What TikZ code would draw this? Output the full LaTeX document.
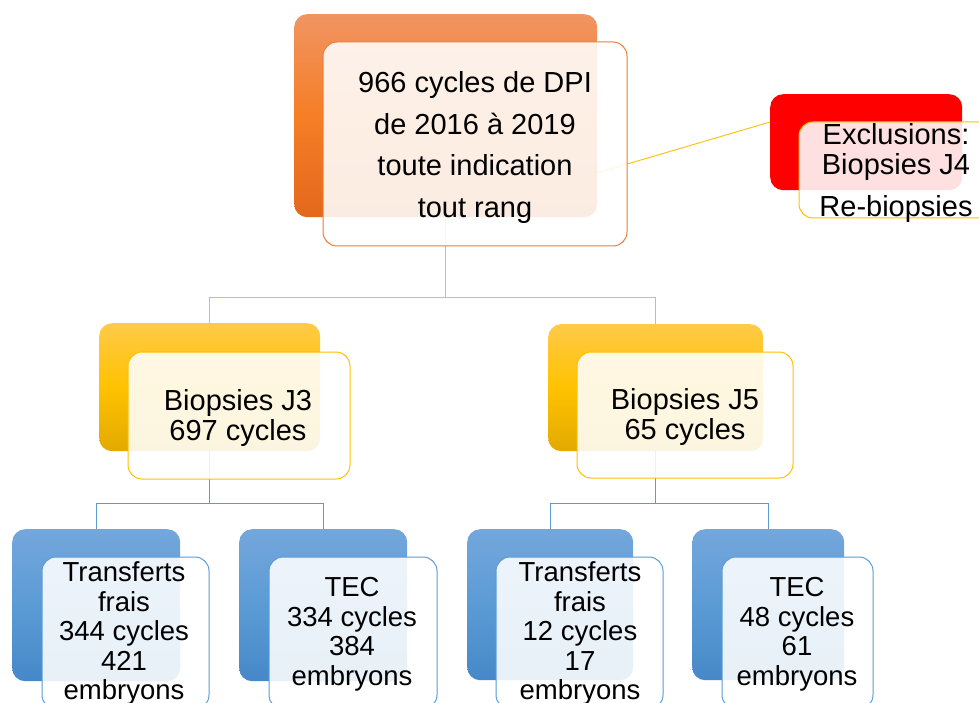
\documentclass[tikz,border=0pt]{standalone}
\usepackage{fontspec}
\setmainfont{Liberation Sans}
\usetikzlibrary{backgrounds}
\definecolor{orT}{RGB}{241,148,98}
\definecolor{orM}{RGB}{245,126,38}
\definecolor{orB}{RGB}{228,104,28}
\definecolor{orL}{RGB}{237,125,49}
\definecolor{yeT}{RGB}{255,202,72}
\definecolor{yeM}{RGB}{255,194,0}
\definecolor{yeB}{RGB}{226,170,0}
\definecolor{yeL}{RGB}{255,192,0}
\definecolor{blT}{RGB}{116,167,220}
\definecolor{blM}{RGB}{91,155,213}
\definecolor{blB}{RGB}{70,136,200}
\definecolor{blL}{RGB}{91,155,213}
\definecolor{exR}{RGB}{255,0,0}
\begin{document}
\begin{tikzpicture}[x=1pt,y=-1pt,
  backbox/.style={rectangle, rounded corners=13pt, inner sep=0pt, anchor=north west, draw=none},
  orback/.style={backbox, top color=orT, bottom color=orB, middle color=orM},
  yeback/.style={backbox, top color=yeT, bottom color=yeB, middle color=yeM},
  blback/.style={backbox, top color=blT, bottom color=blB, middle color=blM},
  redback/.style={backbox, fill=exR},
  frontbox/.style={rectangle, rounded corners=14pt, inner sep=0pt, fill=white, fill opacity=0.88, line width=1pt},
  txt/.style={inner sep=0pt, align=center, text=black},
  bigtxt/.style={txt, font=\fontsize{29}{41.5}\selectfont},
  midtxt/.style={txt, font=\fontsize{29}{30}\selectfont},
  smalltxt/.style={txt, font=\fontsize{27.5}{29.5}\selectfont},
  conY/.style={draw=yeL, line width=0.9pt},
  conB/.style={draw=blL, line width=0.9pt}]
\clip (0,0) rectangle (979,703);
% back boxes
\node[orback, minimum width=303pt, minimum height=203pt] (topb) at (294,14) {};
\node[redback, minimum width=192pt, minimum height=96pt] (exb) at (770,94) {};
\node[yeback, minimum width=221pt, minimum height=128pt] (j3b) at (99,323) {};
\node[yeback, minimum width=215pt, minimum height=127pt] (j5b) at (548,324) {};
\node[blback, minimum width=168pt, minimum height=152pt] (tf1b) at (12,529) {};
\node[blback, minimum width=168pt, minimum height=152pt] (tec1b) at (239,529) {};
\node[blback, minimum width=166pt, minimum height=151pt] (tf2b) at (467,529) {};
\node[blback, minimum width=152pt, minimum height=151pt] (tec2b) at (692,529) {};
% connectors
\coordinate (bus1) at (0,297);
\coordinate (bus2) at (0,503);
\coordinate (exin) at (770,122);
\begin{scope}[on background layer]
\draw[conY] (topb.south) -- (topb.south |- bus1) -| (j3b.north);
\draw[conY] (topb.south |- bus1) -| (j5b.north);
\draw[conY] (topb.south) -- (exin);
\draw[conB] (j3b.south) -- (j3b.south |- bus2) -| (tf1b.north);
\draw[conB] (j3b.south |- bus2) -| (tec1b.north);
\draw[conB] (j5b.south) -- (j5b.south |- bus2) -| (tf2b.north);
\draw[conB] (j5b.south |- bus2) -| (tec2b.north);
\end{scope}
% front boxes
\node[frontbox, draw=orL, minimum width=304pt, minimum height=204pt] (top) at (475,144) {};
\node[frontbox, draw=yeL, minimum width=192pt, minimum height=96pt] (ex) at (895,170) {};
\node[frontbox, draw=yeL, minimum width=222pt, minimum height=127pt] (j3) at (239,415.5) {};
\node[frontbox, draw=yeL, minimum width=216pt, minimum height=126pt] (j5) at (685,415) {};
\node[frontbox, draw=blL, minimum width=167pt, minimum height=152pt] (tf1) at (125.5,633) {};
\node[frontbox, draw=blL, minimum width=168pt, minimum height=152pt] (tec1) at (353,633) {};
\node[frontbox, draw=blL, minimum width=167pt, minimum height=152pt] (tf2) at (579.5,633) {};
\node[frontbox, draw=blL, minimum width=151pt, minimum height=152pt] (tec2) at (797.5,633) {};
% texts
\node[bigtxt] (toptxt) at (475,147.5) {966 cycles de DPI\\de 2016 à 2019\\toute indication\\tout rang};
\node[midtxt] (extxt) at (896,173) {Exclusions:\\Biopsies J4\\[12pt]Re-biopsies};
\node[midtxt] (j3txt) at (238,417.5) {Biopsies J3\\697 cycles};
\node[midtxt] (j5txt) at (685,417) {Biopsies J5\\65 cycles};
\node[smalltxt] (tf1txt) at (124,633.5) {Transferts\\frais\\344 cycles\\421\\embryons};
\node[smalltxt] (tec1txt) at (352,634) {TEC\\334 cycles\\384\\embryons};
\node[smalltxt] (tf2txt) at (580,633.5) {Transferts\\frais\\12 cycles\\17\\embryons};
\node[smalltxt] (tec2txt) at (797,634) {TEC\\48 cycles\\61\\embryons};
\end{tikzpicture}
\end{document}
